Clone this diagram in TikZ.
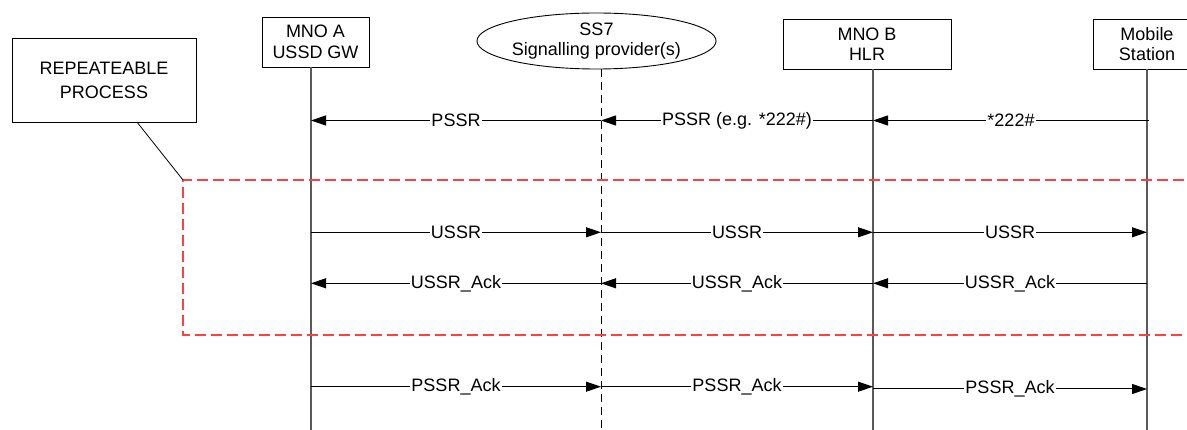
\documentclass[tikz,border=0pt]{standalone}
\usepackage{fontspec}
\setmainfont{Liberation Sans}
\usetikzlibrary{arrows.meta,shapes.geometric,calc}
\definecolor{lifegray}{RGB}{90,90,90}
\definecolor{boxred}{RGB}{255,64,64}
\begin{document}
\begin{tikzpicture}[x=1pt,y=-1pt,
  font=\fontsize{18}{20.5}\selectfont,
  actor/.style={draw=black, line width=0.9pt, fill=white, minimum height=50pt, inner sep=0pt, align=center},
  cloud/.style={draw=black, line width=0.9pt, fill=white, ellipse, minimum width=209pt, minimum height=56pt, inner sep=0pt, align=center},
  life/.style={draw=lifegray, line width=1.3pt},
  dlife/.style={draw=black, line width=1pt, dash pattern=on 8pt off 5pt},
  msg/.style={draw=black, line width=1pt, -{Triangle[length=15pt,width=10pt]}},
  lbl/.style={midway, fill=white, inner sep=1pt},
  repbox/.style={draw=boxred, line width=1.1pt, dash pattern=on 11pt off 5pt}]
\useasboundingbox (0,0) rectangle (1187,430);
\clip (0,0) rectangle (1187,430);
\fill[white] (0,0) rectangle (1187,430);

% actors
\node[actor, minimum width=107pt] (A) at (315.5,42) {MNO A\\USSD GW};
\node[cloud] (S) at (596.5,41) {SS7\\Signalling provider(s)};
\node[actor, minimum width=168pt] (B) at (867,44) {MNO B\\HLR};
\node[actor, minimum width=108pt] (M) at (1147,44) {Mobile\\Station};
\node[draw=black, line width=0.9pt, minimum width=184pt, minimum height=84pt, inner sep=0pt, align=center,
      font=\fontsize{18}{24}\selectfont] (R) at (104,80) {REPEATEABLE\\PROCESS};

% lane coordinates
\coordinate (la) at (311,0);
\coordinate (ls) at (601,0);
\coordinate (lb) at (873,0);
\coordinate (lm) at (1147,0);
\coordinate (bot) at (0,430);
\coordinate (r1) at (0,120.5);
\coordinate (r2) at (0,232.3);
\coordinate (r3) at (0,283.3);
\coordinate (r4) at (0,386.7);
\coordinate (r4b) at (0,389);

% lifelines
\draw[life] (la |- A.south) -- (la |- bot);
\draw[dlife] (ls |- S.south) -- (ls |- bot);
\draw[life] (lb |- B.south) -- (lb |- bot);
\draw[life] (lm |- M.south) -- (lm |- bot);

% repeatable region
\coordinate (rc) at (183,180);
\coordinate (rb) at (183,335);
\draw[repbox] (1200,180) -- (rc) -- (rb) -- (1200,335);
\draw[black, line width=0.8pt] ($(R.south west)!0.68!(R.south east)$) -- (rc);

% messages
\draw[msg] ($(lm |- r1)+(2,0)$) -- (lb |- r1) node[lbl] {*222\#};
\draw[msg] (lb |- r1) -- (ls |- r1) node[lbl] {PSSR (e.g. *222\#)};
\draw[msg] (ls |- r1) -- (la |- r1) node[lbl] {PSSR};

\draw[msg] (la |- r2) -- (ls |- r2) node[lbl] {USSR};
\draw[msg] (ls |- r2) -- (lb |- r2) node[lbl] {USSR};
\draw[msg] (lb |- r2) -- (lm |- r2) node[lbl] {USSR};

\draw[msg] (lm |- r3) -- (lb |- r3) node[lbl] {USSR\_Ack};
\draw[msg] (lb |- r3) -- (ls |- r3) node[lbl] {USSR\_Ack};
\draw[msg] (ls |- r3) -- (la |- r3) node[lbl] {USSR\_Ack};

\draw[msg] (la |- r4) -- (ls |- r4) node[lbl] {PSSR\_Ack};
\draw[msg] (ls |- r4) -- (lb |- r4) node[lbl] {PSSR\_Ack};
\draw[msg] (lb |- r4b) -- (lm |- r4b) node[lbl] {PSSR\_Ack};
\end{tikzpicture}
\end{document}
